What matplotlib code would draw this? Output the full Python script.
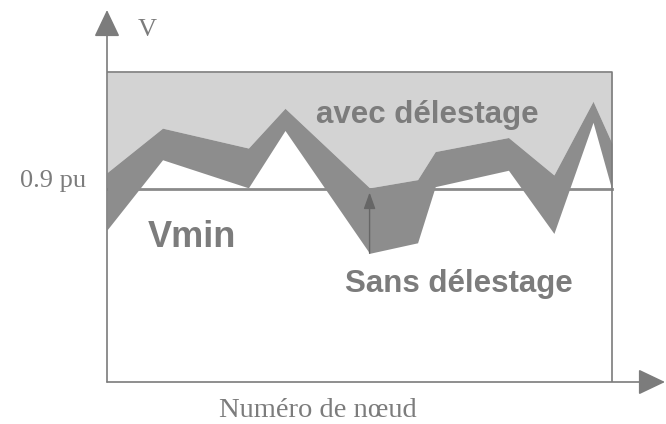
import matplotlib.pyplot as plt
import numpy as np

# Tension le long du réseau (pu), avec et sans délestage
noeuds = [0, 2.2, 5.6, 7.05, 10.4, 12.3, 13.0, 15.9, 17.7, 19.25, 20]
v_avec = [0.914, 0.952, 0.935, 0.969, 0.901, 0.908, 0.932, 0.944, 0.912, 0.975, 0.939]
v_sans = [0.865, 0.925, 0.901, 0.950, 0.845, 0.854, 0.902, 0.916, 0.862, 0.957, 0.899]
v_min = 0.9     # seuil Vmin
v_haut = 1.0    # haut du cadre
i_fleche = 4    # noeud où l'on montre le gain de tension

x_max, y_bas, y_haut = 22.1, 0.735, 1.053

gris = '#7c7c7c'
sans = 'Liberation Sans'
serif = 'Liberation Serif'

fig = plt.figure(figsize=(6.66, 4.24), dpi=100)
ax = fig.add_axes([107/666, 42/424, 558/666, 372/424])
ax.set_xlim(0, x_max)
ax.set_ylim(y_bas, y_haut)
ax.axis('off')

# Zone claire au-dessus de la courbe avec délestage
ax.fill_between(noeuds, v_avec, v_haut, color='#d3d3d3', lw=0, zorder=1)
# Ligne 0.9 pu
ax.plot([0, noeuds[-1]], [v_min, v_min], color='#8a8a8a', lw=2, zorder=2)
# Bande entre les deux profils
ax.fill_between(noeuds, v_sans, v_avec, color='#8d8d8d', lw=0, zorder=3)

# Cadre haut et droit
ax.plot([0, noeuds[-1], noeuds[-1]], [v_haut, v_haut, y_bas], color=gris, lw=1.2, zorder=4)

# Axes avec flèches
style_axe = dict(arrowstyle='-|>,head_length=0.42,head_width=0.2', mutation_scale=40,
                 color=gris, lw=1.2, shrinkA=0, shrinkB=0)
ax.annotate('', xy=(0, y_haut), xytext=(0, y_bas), arrowprops=style_axe, annotation_clip=False)
ax.annotate('', xy=(x_max, y_bas), xytext=(0, y_bas), arrowprops=style_axe, annotation_clip=False)

# Flèche du profil sans délestage vers Vmin
ax.annotate('', xy=(noeuds[i_fleche], v_min - 0.003), xytext=(noeuds[i_fleche], v_sans[i_fleche]),
            arrowprops=dict(arrowstyle='-|>,head_length=0.5,head_width=0.18', mutation_scale=20,
                            color='#666666', lw=1, shrinkA=0, shrinkB=0), zorder=5)

# Textes
ax.text(1.58, 1.036, "V", fontsize=19, family=serif, color=gris, ha='center', va='center')
ax.text(-0.83, 0.9017, "0.9 pu", fontsize=19, family=serif, color=gris, ha='right', va='baseline')
ax.text(8.36, 0.7051, "Numéro de nœud", fontsize=20.5, family=serif, color=gris, ha='center', va='baseline')
ax.text(8.28, 0.9564, "avec délestage", fontsize=22.5, family=sans, weight='bold', color=gris,
        ha='left', va='baseline', zorder=6)
ax.text(1.62, 0.8504, "Vmin", fontsize=26, family=sans, weight='bold', color=gris,
        ha='left', va='baseline', zorder=6)
ax.text(9.43, 0.812, "Sans délestage", fontsize=22.5, family=sans, weight='bold', color=gris,
        ha='left', va='baseline', zorder=6)

plt.savefig('out.png', dpi=100)
